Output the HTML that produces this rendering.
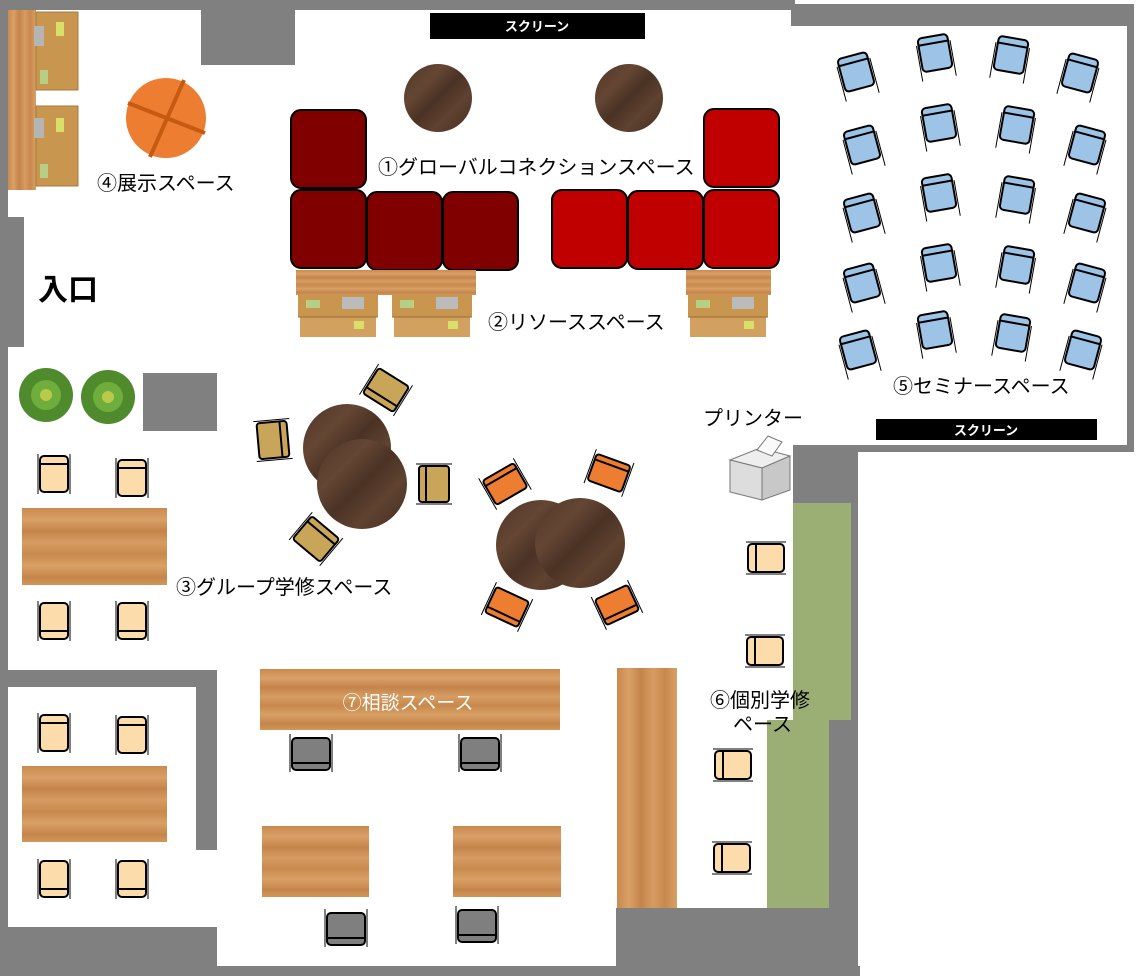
<!DOCTYPE html>
<html><head><meta charset="utf-8"><style>
html,body{margin:0;padding:0;background:#fff;width:1136px;height:976px;overflow:hidden}
svg{display:block}
text{font-family:"Liberation Sans","Noto Sans CJK JP",sans-serif}
</style></head><body>
<svg width="1136" height="976" viewBox="0 0 1136 976" xmlns="http://www.w3.org/2000/svg">
<defs>
<linearGradient id="woodH" x1="0" y1="0" x2="0" y2="1">
<stop offset="0" stop-color="#c98a4e"/><stop offset="0.15" stop-color="#d9a067"/><stop offset="0.3" stop-color="#c4844a"/><stop offset="0.45" stop-color="#d69c62"/><stop offset="0.6" stop-color="#c8894d"/><stop offset="0.75" stop-color="#d8a065"/><stop offset="0.9" stop-color="#c5854a"/><stop offset="1" stop-color="#d29758"/>
</linearGradient>
<linearGradient id="woodV" x1="0" y1="0" x2="1" y2="0">
<stop offset="0" stop-color="#c98a4e"/><stop offset="0.2" stop-color="#d9a067"/><stop offset="0.4" stop-color="#c4844a"/><stop offset="0.6" stop-color="#d69c62"/><stop offset="0.8" stop-color="#c8894d"/><stop offset="1" stop-color="#d8a065"/>
</linearGradient>
<linearGradient id="dark" x1="0" y1="0" x2="1" y2="1">
<stop offset="0" stop-color="#4e3526"/><stop offset="0.3" stop-color="#654634"/><stop offset="0.5" stop-color="#4a3224"/><stop offset="0.7" stop-color="#5f4230"/><stop offset="1" stop-color="#452e21"/>
</linearGradient>
<g id="pc"><line x1="-16" y1="-20" x2="-16" y2="20" stroke="#000" stroke-width="1"/><line x1="16" y1="-20" x2="16" y2="20" stroke="#000" stroke-width="1"/><rect x="-14" y="-18" width="28" height="36" rx="4" fill="#fddcac" stroke="#000" stroke-width="2"/><line x1="-14" y1="10" x2="14" y2="10" stroke="#000" stroke-width="2"/></g>
<g id="bc"><line x1="-17" y1="-10" x2="-17" y2="26" stroke="#000" stroke-width="1"/><line x1="17" y1="-10" x2="17" y2="26" stroke="#000" stroke-width="1"/><rect x="-15" y="-17" width="30" height="34" rx="4" fill="#9dc3e6" stroke="#000" stroke-width="2"/><line x1="-15" y1="-10" x2="15" y2="-10" stroke="#000" stroke-width="2"/></g>
<g id="gc"><line x1="-21" y1="-20" x2="-21" y2="18" stroke="#000" stroke-width="1"/><line x1="21" y1="-20" x2="21" y2="18" stroke="#000" stroke-width="1"/><rect x="-19" y="-16" width="38" height="32" rx="4" fill="#7f7f7f" stroke="#000" stroke-width="2"/><line x1="-19" y1="9" x2="19" y2="9" stroke="#000" stroke-width="2"/></g>
<g id="oc"><line x1="-20" y1="-18" x2="-20" y2="18" stroke="#000" stroke-width="1"/><line x1="20" y1="-18" x2="20" y2="18" stroke="#000" stroke-width="1"/><rect x="-18" y="-14" width="36" height="28" rx="3" fill="#ed7d31" stroke="#000" stroke-width="2"/><line x1="-18" y1="8" x2="18" y2="8" stroke="#000" stroke-width="2"/></g>
<g id="tc"><line x1="-20" y1="-18" x2="-20" y2="18" stroke="#000" stroke-width="1"/><line x1="20" y1="-18" x2="20" y2="18" stroke="#000" stroke-width="1"/><rect x="-18" y="-15" width="36" height="30" rx="3" fill="#c9a55a" stroke="#000" stroke-width="2"/><line x1="-18" y1="8" x2="18" y2="8" stroke="#000" stroke-width="2"/></g>
<g id="sr"><rect x="0" y="0" width="75" height="78" rx="10" fill="#800000" stroke="#000" stroke-width="2"/></g>
<g id="sR"><rect x="0" y="0" width="75" height="78" rx="10" fill="#c00000" stroke="#000" stroke-width="2"/></g>
<g id="shelf"><rect x="0" y="0" width="80" height="22" fill="#c9964f"/><rect x="2" y="22" width="76" height="20" fill="#d2a160"/><rect x="8" y="5" width="14" height="8" fill="#b7cf85"/><rect x="44" y="2" width="22" height="12" fill="#bbbbbb"/><rect x="56" y="26" width="10" height="8" fill="#d9e06a"/><line x1="0" y1="22" x2="80" y2="22" stroke="#9b6b2f"/></g>
</defs>

<g fill="#808080">
<rect x="0" y="0" width="795" height="10"/>
<rect x="0" y="0" width="8" height="976"/>
<rect x="201" y="10" width="94" height="55"/>
<rect x="0" y="217" width="24" height="130"/>
<rect x="143" y="373" width="74" height="58"/>
<rect x="0" y="670" width="217" height="17"/>
<rect x="196" y="670" width="21" height="180"/>
<rect x="0" y="927" width="217" height="49"/>
<rect x="0" y="966" width="860" height="10"/>
<rect x="616" y="908" width="242" height="68"/>
<rect x="791" y="4" width="343" height="22"/>
<rect x="1127" y="4" width="7" height="448"/>
<rect x="857" y="445" width="277" height="7"/>
<rect x="793" y="445" width="65" height="58"/>
<rect x="851" y="503" width="7" height="217"/>
<rect x="829" y="717" width="29" height="200"/>
</g>
<rect x="793" y="503" width="58" height="217" fill="#9baf75"/>
<rect x="767" y="720" width="62" height="188" fill="#9baf75"/>

<rect x="430" y="13" width="215" height="26" fill="#000"/>
<text x="537" y="31" font-size="13" font-weight="bold" fill="#fff" text-anchor="middle">スクリーン</text>
<rect x="876" y="419" width="221" height="21" fill="#000"/>
<text x="986" y="435" font-size="13" font-weight="bold" fill="#fff" text-anchor="middle">スクリーン</text>

<rect x="8" y="10" width="28" height="180" fill="url(#woodV)"/>
<g fill="#c9964f" stroke="#a67a3a">
<rect x="36" y="12" width="42" height="78"/><rect x="36" y="106" width="42" height="80"/>
</g>
<rect x="56" y="22" width="8" height="14" fill="#d9e06a"/><rect x="40" y="70" width="8" height="14" fill="#b7cf85"/>
<rect x="56" y="118" width="8" height="14" fill="#d9e06a"/><rect x="40" y="164" width="8" height="14" fill="#b7cf85"/>
<rect x="34" y="26" width="10" height="20" fill="#b5b5b5"/><rect x="34" y="118" width="10" height="20" fill="#b5b5b5"/>

<circle cx="166" cy="118" r="40" fill="#ed7d31"/>
<line x1="184" y1="80" x2="150" y2="157" stroke="#c55a11" stroke-width="4"/>
<line x1="128" y1="103" x2="205" y2="133" stroke="#c55a11" stroke-width="4"/>

<g>
<circle cx="46" cy="395" r="27" fill="#4f8a2c"/><circle cx="46" cy="395" r="15" fill="#6fae3c"/><circle cx="46" cy="395" r="6" fill="#b9c94a"/>
<circle cx="108" cy="397" r="27" fill="#4f8a2c"/><circle cx="108" cy="397" r="15" fill="#6fae3c"/><circle cx="108" cy="397" r="6" fill="#b9c94a"/>
</g>

<use href="#sr" x="291" y="110"/><use href="#sr" x="291" y="190"/><use href="#sr" x="367" y="192"/><use href="#sr" x="443" y="192"/>
<use href="#sR" x="704" y="109"/><use href="#sR" x="704" y="190"/><use href="#sR" x="628" y="191"/><use href="#sR" x="552" y="190"/>
<circle cx="438" cy="98" r="34" fill="url(#dark)"/>
<circle cx="629" cy="98" r="34" fill="url(#dark)"/>

<rect x="296" y="270" width="180" height="25" fill="url(#woodH)"/>
<use href="#shelf" x="298" y="295"/><use href="#shelf" x="392" y="295"/>
<rect x="686" y="270" width="85" height="25" fill="url(#woodH)"/>
<use href="#shelf" x="688" y="295"/>

<use href="#tc" transform="translate(386,390) rotate(32)"/>
<use href="#tc" transform="translate(273,440) rotate(-95)"/>
<use href="#tc" transform="translate(434,484) rotate(90)"/>
<use href="#tc" transform="translate(316,539) rotate(-140)"/>
<circle cx="347" cy="448" r="44" fill="url(#dark)"/>
<circle cx="362" cy="484" r="45" fill="url(#dark)"/>
<use href="#oc" transform="translate(505,484) rotate(150)"/>
<use href="#oc" transform="translate(609,473) rotate(200)"/>
<use href="#oc" transform="translate(507,607) rotate(25)"/>
<use href="#oc" transform="translate(617,605) rotate(-25)"/>
<circle cx="541" cy="545" r="45" fill="url(#dark)"/>
<circle cx="580" cy="543" r="45" fill="url(#dark)"/>

<rect x="22" y="508" width="145" height="77" fill="url(#woodH)"/>
<use href="#pc" transform="translate(54,474) rotate(180)"/><use href="#pc" transform="translate(132,478) rotate(180)"/>
<use href="#pc" x="54" y="621"/><use href="#pc" x="132" y="621"/>
<rect x="22" y="766" width="145" height="76" fill="url(#woodH)"/>
<use href="#pc" transform="translate(54,733) rotate(180)"/><use href="#pc" transform="translate(132,735) rotate(180)"/>
<use href="#pc" x="54" y="879"/><use href="#pc" x="132" y="879"/>

<rect x="260" y="669" width="300" height="61" fill="url(#woodH)"/>
<text x="408" y="709" font-size="19" fill="#fff" text-anchor="middle">⑦相談スペース</text>
<use href="#gc" x="311" y="754"/><use href="#gc" x="480" y="754"/>
<rect x="262" y="826" width="107" height="71" fill="url(#woodH)"/>
<rect x="453" y="826" width="108" height="71" fill="url(#woodH)"/>
<use href="#gc" x="346" y="929"/><use href="#gc" x="477" y="926"/>
<rect x="617" y="668" width="60" height="240" fill="url(#woodV)"/>

<use href="#pc" transform="translate(766,558) rotate(90)"/>
<use href="#pc" transform="translate(765,651) rotate(90)"/>
<use href="#pc" transform="translate(733,765) rotate(90)"/>
<use href="#pc" transform="translate(732,858) rotate(90)"/>

<g stroke="#777" stroke-width="1">
<polygon points="730,460 760,448 790,456 762,468" fill="#eee"/>
<polygon points="730,460 762,468 762,500 730,492" fill="#ddd"/>
<polygon points="762,468 790,456 790,490 762,500" fill="#c8c8c8"/>
<polygon points="757,450 768,436 782,442 772,456" fill="#fafafa"/>
</g>

<use href="#bc" transform="translate(856,72) rotate(-15)"/>
<use href="#bc" transform="translate(935,53) rotate(-10)"/>
<use href="#bc" transform="translate(1011,55) rotate(10)"/>
<use href="#bc" transform="translate(1080,73) rotate(15)"/>
<use href="#bc" transform="translate(862,145) rotate(-15)"/>
<use href="#bc" transform="translate(939,123) rotate(-10)"/>
<use href="#bc" transform="translate(1017,125) rotate(10)"/>
<use href="#bc" transform="translate(1087,145) rotate(15)"/>
<use href="#bc" transform="translate(862,213) rotate(-15)"/>
<use href="#bc" transform="translate(939,193) rotate(-10)"/>
<use href="#bc" transform="translate(1017,195) rotate(10)"/>
<use href="#bc" transform="translate(1087,213) rotate(15)"/>
<use href="#bc" transform="translate(862,283) rotate(-15)"/>
<use href="#bc" transform="translate(939,263) rotate(-10)"/>
<use href="#bc" transform="translate(1017,265) rotate(10)"/>
<use href="#bc" transform="translate(1087,283) rotate(15)"/>
<use href="#bc" transform="translate(858,350) rotate(-15)"/>
<use href="#bc" transform="translate(935,330) rotate(-10)"/>
<use href="#bc" transform="translate(1013,333) rotate(10)"/>
<use href="#bc" transform="translate(1083,350) rotate(15)"/>

<g font-size="20" fill="#000">
<text x="378" y="174">①グローバルコネクションスペース</text>
<text x="488" y="329">②リソーススペース</text>
<text x="97" y="190">④展示スペース</text>
<text x="176" y="594">③グループ学修スペース</text>
<text x="893" y="393">⑤セミナースペース</text>
<text x="703" y="425">プリンター</text>
<text x="710" y="707">⑥個別学修</text>
<text x="733" y="731">ペース</text>
</g>
<text x="38" y="300" font-size="30" font-weight="bold" fill="#000">入口</text>
</svg>
</body></html>
